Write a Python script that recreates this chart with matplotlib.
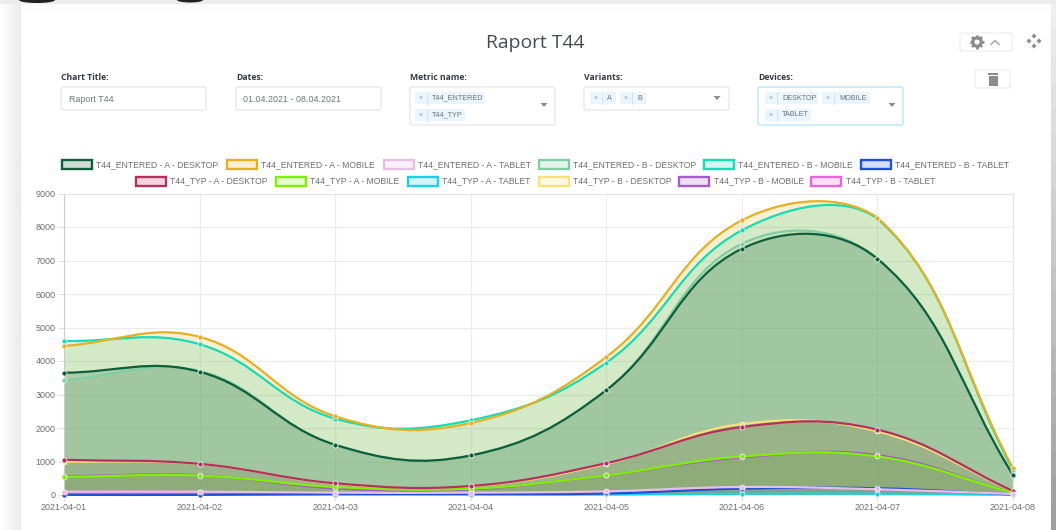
import matplotlib
matplotlib.use('Agg')
import matplotlib.pyplot as plt
from matplotlib.patches import Rectangle, FancyBboxPatch, PathPatch, Polygon, Ellipse, Circle
from matplotlib.path import Path
import numpy as np

plt.rcParams['font.family'] = ['Liberation Sans', 'DejaVu Sans']

W, H = 1056, 530

dates = ['2021-04-01', '2021-04-02', '2021-04-03', '2021-04-04',
         '2021-04-05', '2021-04-06', '2021-04-07', '2021-04-08']
y_ticks = [0, 1000, 2000, 3000, 4000, 5000, 6000, 7000, 8000, 9000]

entered_a_desktop = [3650, 3680, 1500, 1180, 3130, 7350, 7050, 600]
entered_a_mobile = [4450, 4720, 2350, 2150, 4120, 8200, 8280, 800]
entered_a_tablet = [100, 100, 70, 70, 110, 240, 170, 30]
entered_b_desktop = [3430, 3700, 1490, 1180, 3130, 7500, 7050, 580]
entered_b_mobile = [4600, 4500, 2280, 2230, 3950, 7900, 8250, 750]
entered_b_tablet = [5, 5, 30, 30, 45, 190, 200, 15]
typ_a_desktop = [1050, 930, 350, 270, 950, 2030, 1950, 120]
typ_a_mobile = [540, 580, 240, 190, 590, 1150, 1150, 60]
typ_a_tablet = [15, 15, 12, 12, 15, 40, 40, 5]
typ_b_desktop = [1000, 930, 340, 260, 930, 2120, 1900, 110]
typ_b_mobile = [560, 590, 200, 170, 590, 1120, 1190, 55]
typ_b_tablet = [90, 90, 50, 50, 90, 210, 170, 25]

names = ['T44_ENTERED - A - DESKTOP', 'T44_ENTERED - A - MOBILE', 'T44_ENTERED - A - TABLET',
         'T44_ENTERED - B - DESKTOP', 'T44_ENTERED - B - MOBILE', 'T44_ENTERED - B - TABLET',
         'T44_TYP - A - DESKTOP', 'T44_TYP - A - MOBILE', 'T44_TYP - A - TABLET',
         'T44_TYP - B - DESKTOP', 'T44_TYP - B - MOBILE', 'T44_TYP - B - TABLET']
series = [entered_a_desktop, entered_a_mobile, entered_a_tablet,
          entered_b_desktop, entered_b_mobile, entered_b_tablet,
          typ_a_desktop, typ_a_mobile, typ_a_tablet,
          typ_b_desktop, typ_b_mobile, typ_b_tablet]
colors = ['#0f5f3a', '#e6b021', '#e6bfe6', '#7fcfa5', '#14dcb4', '#1f4fd8',
          '#b5305f', '#7ef000', '#1fd0e0', '#f7e27a', '#a55cc8', '#e866d8']

fig = plt.figure(figsize=(W / 100, H / 100), dpi=100, facecolor='white')

# screenshot backdrop and all the form stuff, in pixel coordinates
bg = fig.add_axes([0, 0, 1, 1], zorder=0)
bg.set_xlim(0, W)
bg.set_ylim(H, 0)
bg.axis('off')
bg.imshow(np.linspace(0.995, 0.925, 20).reshape(1, -1), cmap='gray', vmin=0, vmax=1,
          extent=(0, 20.5, H, 4), aspect='auto')
bg.imshow(np.linspace(0.93, 0.62, 20).reshape(-1, 1), cmap='gray', vmin=0, vmax=1,
          extent=(1051, W, H, 4), aspect='auto')
bg.set_xlim(0, W)
bg.set_ylim(H, 0)
bg.add_patch(Rectangle((0, 0), W, 4, color='#ececec', lw=0))
bg.add_patch(Rectangle((20.5, 4), 1030, 8, color='#fdfdfd', lw=0))
bg.add_patch(Ellipse((37, 0), 36, 6, color='#222222', lw=0))
bg.add_patch(Ellipse((190, 0), 26, 5, color='#222222', lw=0))

bg.text(535.5, 43, 'Raport T44', ha='center', va='center', fontsize=13.9,
        color='#444b52', family=['Open Sans', 'DejaVu Sans'])


def box(x, y, w, h, ec='#e3e6ea'):
    bg.add_patch(FancyBboxPatch((x + 2, y + 2), w - 4, h - 4, boxstyle='round,pad=2',
                                fc='white', ec=ec, lw=0.9))


def chip(x, y, w, label):
    bg.add_patch(Rectangle((x, y), w, 12, color='#ebf5ff', lw=0))
    bg.plot([x + 12, x + 12], [y, y + 12], color='#cfe4f7', lw=0.7)
    bg.text(x + 6, y + 6.3, '×', ha='center', va='center', fontsize=5, color='#8a98a8')
    bg.text(x + 17, y + 6, label, ha='left', va='center', fontsize=5.2, color='#6b7580')


for x, label in [(61, 'Chart Title:'), (236, 'Dates:'), (410, 'Metric name:'),
                 (584, 'Variants:'), (758, 'Devices:')]:
    bg.text(x, 77, label, ha='left', va='center', fontsize=6.2, fontweight='bold',
            color='#353c43', family=['Open Sans', 'DejaVu Sans'])

box(61, 87, 145, 23)
box(236, 87, 145, 23)
box(410, 87, 145, 38)
box(584, 87, 145, 23)
box(758, 87, 145, 38, ec='#b5e2f7')
bg.text(69, 99, 'Raport T44', ha='left', va='center', fontsize=6.4, color='#6e757c')
bg.text(243, 99, '01.04.2021 - 08.04.2021', ha='left', va='center', fontsize=6.4, color='#6e757c')
chip(415, 92, 70, 'T44_ENTERED')
chip(415, 109, 50, 'T44_TYP')
chip(590, 92, 26, 'A')
chip(620, 92, 26, 'B')
chip(765, 92, 53, 'DESKTOP')
chip(822, 92, 48, 'MOBILE')
chip(765, 109, 46, 'TABLET')
for x, y in [(544, 105), (717, 98), (892, 105)]:
    bg.add_patch(Polygon([(x - 3.5, y - 2), (x + 3.5, y - 2), (x, y + 2)], color='#8a8f94', lw=0))

# gear button, move icon, trash button
box(960, 33, 52, 18, ec='#eceef0')
for a in np.arange(8) * np.pi / 4:
    bg.plot([977 + 3 * np.cos(a), 977 + 7 * np.cos(a)], [42 + 3 * np.sin(a), 42 + 7 * np.sin(a)],
            color='#8c8c8c', lw=2.0, solid_capstyle='butt')
bg.add_patch(Circle((977, 42), 4.2, fc='none', ec='#8c8c8c', lw=2.2))
bg.plot([991, 995, 999], [44.5, 40.5, 44.5], color='#a0a0a0', lw=1)
for dx, dy in [(0, -5), (0, 5), (-5, 0), (5, 0)]:
    cx, cy = 1034 + dx, 41 + dy
    bg.add_patch(Polygon([(cx - 2.5, cy), (cx, cy - 2.5), (cx + 2.5, cy), (cx, cy + 2.5)],
                         color='#8c8c8c', lw=0))
box(975, 70, 35, 18, ec='#eceef0')
bg.add_patch(Rectangle((988, 73), 10, 2, color='#8c8c8c', lw=0))
bg.add_patch(Rectangle((988.5, 76), 9, 10, color='#8c8c8c', lw=0))

# legend
swatches = [(61.5, 164.5), (226.5, 164.5), (383.5, 164.5), (538.5, 164.5), (703.5, 164.5), (860.5, 164.5),
            (135.5, 181), (276, 181), (408, 181), (538.5, 181), (679, 181), (811, 181)]
for (x, y), name, c in zip(swatches, names, colors):
    bg.add_patch(Rectangle((x, y - 4.5), 30, 9, fc=matplotlib.colors.to_rgba(c, 0.2), ec=c, lw=1.7))
    bg.text(x + 34.5, y, name, ha='left', va='center', fontsize=6.2, color='#6f6f6f')

# chart itself
x0, x1 = 64, 1013
y0, y1 = 495, 193.5
ax = fig.add_axes([x0 / W, 1 - y0 / H, (x1 - x0) / W, (y0 - y1) / H], zorder=1)
ax.patch.set_alpha(0)
ax.set_xlim(0, len(dates) - 1)
ax.set_ylim(0, 9000)
ax.set_xticks(range(len(dates)))
ax.set_xticklabels(dates)
ax.set_yticks(y_ticks)
ax.grid(True, color='#ececec', lw=0.8)
ax.set_axisbelow(True)
ax.tick_params(colors='#6f6f6f', labelsize=6.5, length=4, width=0.8, color='#e0e0e0', pad=2)
for s in ax.spines.values():
    s.set_color('#e4e4e4')
    s.set_linewidth(0.8)
ax.spines['left'].set_color('#cccccc')


def bezier_path(ys, tension=0.4):
    # same spline chart.js uses, worked out in pixel space, control points capped to the chart area
    pts = ax.transData.transform(np.column_stack([range(len(ys)), ys]))
    top = ax.transData.transform((0, 9000))[1]
    verts = [pts[0]]
    n = len(pts)
    for i in range(n - 1):
        p_prev, p, p_next, p_after = pts[max(i - 1, 0)], pts[i], pts[i + 1], pts[min(i + 2, n - 1)]
        d01, d12 = np.hypot(*(p - p_prev)), np.hypot(*(p_next - p))
        d23 = np.hypot(*(p_after - p_next))
        c1 = p + tension * d12 / (d01 + d12) * (p_next - p_prev)
        c2 = p_next - tension * d12 / (d12 + d23) * (p_after - p)
        c1[1] = min(c1[1], top)
        c2[1] = min(c2[1], top)
        verts += [c1, c2, p_next]
    return ax.transData.inverted().transform(np.array(verts))


for k in range(len(series) - 1, -1, -1):
    ys, c = series[k], colors[k]
    z = (len(series) - k) * 0.01
    verts = bezier_path(ys)
    codes = [Path.MOVETO] + [Path.CURVE4] * (len(verts) - 1)
    fill_verts = np.vstack([verts, [[len(ys) - 1, 0], [0, 0], [0, 0]]])
    fill_codes = codes + [Path.LINETO, Path.LINETO, Path.CLOSEPOLY]
    ax.add_patch(PathPatch(Path(fill_verts, fill_codes), fc=matplotlib.colors.to_rgba(c, 0.2),
                           ec='none', lw=0, zorder=2 + z))
    # lines sit above every fill, dots above every line
    ax.add_patch(PathPatch(Path(verts, codes), fc='none', ec=c, lw=1.6, zorder=3 + z, clip_on=False))
    ax.plot(range(len(ys)), ys, ls='none', marker='o', ms=3.6, mfc=c, mec='#f4f4f4', mew=0.5,
            zorder=4 + z, clip_on=False)

fig.savefig('out.png', dpi=100)
